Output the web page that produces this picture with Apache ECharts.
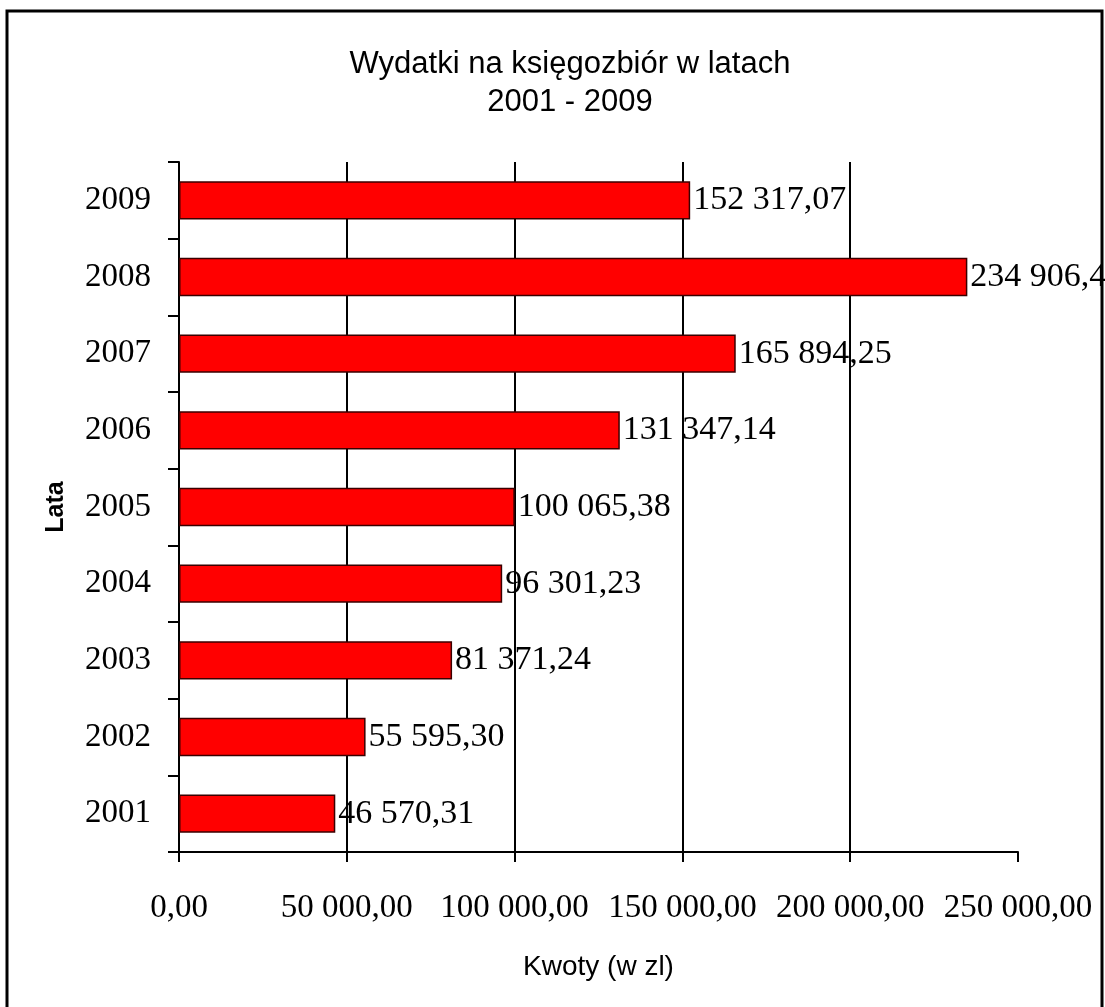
<!DOCTYPE html>
<html>
<head>
<meta charset="utf-8">
<script src="https://cdn.jsdelivr.net/npm/echarts@6/dist/echarts.min.js"></script>
<style>
  html, body { margin: 0; padding: 0; background: #fff; }
  #main { width: 1105px; height: 1007px; }
</style>
</head>
<body>
<div id="main"></div>
<script>
var years = ['2001', '2002', '2003', '2004', '2005', '2006', '2007', '2008', '2009'];
var amounts = [46570.31, 55595.30, 81371.24, 96301.23, 100065.38, 131347.14, 165894.25, 234906.45, 152317.07];

// Polish number format: space for thousands, comma for decimals
function plFormat(v) {
  var parts = v.toFixed(2).split('.');
  var intPart = parts[0].replace(/\B(?=(\d{3})+(?!\d))/g, ' ');
  return intPart + ',' + parts[1];
}

var chartDom = document.getElementById('main');
var myChart = echarts.init(chartDom);
var serif = '"Liberation Serif", "Times New Roman", serif';
var sans = '"Liberation Sans", Arial, sans-serif';

var option = {
  animation: false,
  backgroundColor: '#fff',
  title: {
    text: 'Wydatki na księgozbiór w latach\n2001 - 2009',
    left: 565,
    top: 40,
    textAlign: 'center',
    textStyle: {
      fontFamily: sans,
      fontSize: 31,
      fontWeight: 'normal',
      color: '#000',
      lineHeight: 38
    }
  },
  graphic: [
    {
      type: 'rect',
      shape: { x: 7, y: 11, width: 1095, height: 1010 },
      style: { fill: 'none', stroke: '#000', lineWidth: 3 },
      silent: true
    }
  ],
  grid: {
    left: 179,
    right: 87,
    top: 162,
    bottom: 155,
    containLabel: false
  },
  xAxis: {
    type: 'value',
    min: 0,
    max: 250000,
    interval: 50000,
    name: 'Kwoty (w zl)',
    nameLocation: 'middle',
    nameGap: 101,
    nameTextStyle: { fontFamily: sans, fontSize: 28, color: '#000' },
    axisLine: { show: true, lineStyle: { color: '#000', width: 2 } },
    axisTick: { show: true, length: 10, lineStyle: { color: '#000', width: 2 } },
    axisLabel: {
      margin: 40,
      fontFamily: serif,
      fontSize: 33,
      color: '#000',
      formatter: plFormat
    },
    splitLine: {
      show: true,
      showMinLine: false,
      showMaxLine: false,
      lineStyle: { color: '#000', width: 2 }
    }
  },
  yAxis: {
    type: 'category',
    data: years,
    name: 'Lata',
    nameLocation: 'middle',
    nameRotate: 90,
    nameGap: 110,
    nameTextStyle: { fontFamily: sans, fontSize: 25, fontWeight: 'bold', color: '#000' },
    axisLine: { show: true, lineStyle: { color: '#000', width: 2 } },
    axisTick: { show: true, length: 11, lineStyle: { color: '#000', width: 2 } },
    axisLabel: {
      margin: 28,
      fontFamily: serif,
      fontSize: 33,
      color: '#000'
    }
  },
  series: [
    {
      type: 'bar',
      data: amounts,
      barCategoryGap: '50%',
      itemStyle: {
        color: '#ff0000',
        borderColor: '#3a0000',
        borderWidth: 1.5
      },
      label: {
        show: true,
        position: 'right',
        distance: 3,
        fontFamily: serif,
        fontSize: 34,
        color: '#000',
        formatter: function (p) {
          return plFormat(p.value);
        }
      }
    }
  ]
};

option && myChart.setOption(option);
</script>
</body>
</html>
